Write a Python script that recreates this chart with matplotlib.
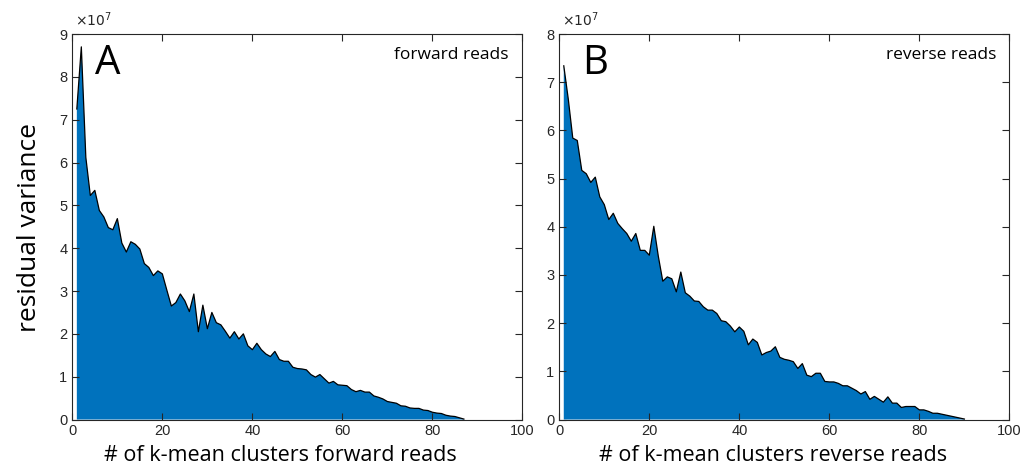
import numpy as np
import matplotlib
matplotlib.use('Agg')
import matplotlib.pyplot as plt

# residual variance (x 1e7) vs number of k-mean clusters
k_forward = np.arange(1, 88)
var_forward = [7.25, 8.70, 6.12, 5.23, 5.35, 4.88, 4.73, 4.48, 4.43, 4.69,
               4.12, 3.91, 4.15, 4.09, 3.98, 3.64, 3.55, 3.36, 3.47, 3.40,
               3.02, 2.65, 2.73, 2.93, 2.77, 2.52, 2.93, 2.05, 2.67, 2.12,
               2.50, 2.26, 2.21, 2.06, 1.90, 2.05, 1.88, 2.00, 1.72, 1.63,
               1.78, 1.63, 1.53, 1.47, 1.59, 1.40, 1.36, 1.36, 1.22, 1.19,
               1.18, 1.16, 1.05, 0.99, 1.05, 0.95, 0.85, 0.89, 0.81, 0.80,
               0.79, 0.70, 0.65, 0.68, 0.64, 0.64, 0.55, 0.52, 0.48, 0.42,
               0.40, 0.38, 0.32, 0.31, 0.27, 0.26, 0.26, 0.22, 0.21, 0.17,
               0.15, 0.14, 0.10, 0.08, 0.07, 0.04, 0.01]

k_reverse = np.arange(1, 91)
var_reverse = [7.34, 6.65, 5.84, 5.79, 5.17, 5.10, 4.92, 5.03, 4.62, 4.46,
               4.15, 4.28, 4.07, 3.96, 3.86, 3.70, 3.86, 3.51, 3.51, 3.41,
               4.01, 3.39, 2.87, 2.96, 2.92, 2.65, 3.06, 2.63, 2.56, 2.46,
               2.45, 2.34, 2.27, 2.27, 2.20, 2.05, 2.03, 1.94, 1.82, 1.92,
               1.83, 1.55, 1.67, 1.60, 1.34, 1.39, 1.42, 1.51, 1.29, 1.25,
               1.23, 1.20, 1.06, 1.16, 0.92, 0.89, 0.96, 0.96, 0.79, 0.78,
               0.78, 0.75, 0.70, 0.70, 0.65, 0.60, 0.53, 0.58, 0.42, 0.48,
               0.42, 0.36, 0.47, 0.34, 0.34, 0.25, 0.27, 0.27, 0.27, 0.20,
               0.20, 0.17, 0.13, 0.13, 0.11, 0.09, 0.07, 0.05, 0.03, 0.01]

xticks = [0, 20, 40, 60, 80, 100]
blue = '#0072BD'
label_font = ['Open Sans', 'DejaVu Sans']
tick_font = ['Liberation Sans', 'DejaVu Sans']

fig = plt.figure(figsize=(10.23, 4.69), dpi=100)

panels = [
  (k_forward, var_forward, 9, 'A', 'forward reads', '# of k-mean clusters forward reads', 0.0707, 0.274),
  (k_reverse, var_reverse, 8, 'B', 'reverse reads', '# of k-mean clusters reverse reads', 0.5467, 0.756),
]

for k, v, ymax, letter, tag, xlab, left, xlab_x in panels :
  ax = fig.add_axes([left, 0.1055, 0.440, 0.822])
  v = np.array(v) * 1e7
  ax.fill_between(k, v, 0, facecolor=blue, edgecolor='none')
  ax.plot(k, v, color='black', lw=0.9)
  ax.set_xlim(0, 100)
  ax.set_ylim(0, ymax * 1e7)
  ax.set_xticks(xticks)
  ax.set_yticks(np.arange(0, ymax + 1) * 1e7)
  ax.set_yticklabels([str(i) for i in range(ymax + 1)])
  ax.tick_params(direction='in', top=True, right=True, length=5, width=0.8,
                 labelsize=10.5, colors='#262626', pad=3.5)
  for lbl in ax.get_xticklabels() + ax.get_yticklabels() :
    lbl.set_family(tick_font)
  for s in ax.spines.values() :
    s.set_color('#262626')
    s.set_linewidth(0.8)
  ax.text(0.005, 1.012, r'$\times10^{7}$', transform=ax.transAxes, fontsize=10,
          color='#262626', ha='left', va='bottom')
  ax.text(0.05, 0.975, letter, transform=ax.transAxes, fontsize=29,
          family=label_font, ha='left', va='top')
  ax.text(0.97, 0.965, tag, transform=ax.transAxes, fontsize=12.5,
          family=label_font, ha='right', va='top')
  fig.text(xlab_x, 0.028, xlab, fontsize=15.5, family=label_font,
           ha='center', va='center')

fig.text(0.029, 0.515, 'residual variance', fontsize=19, family=label_font,
         rotation=90, ha='center', va='center')

fig.savefig('out.png', dpi=100)
